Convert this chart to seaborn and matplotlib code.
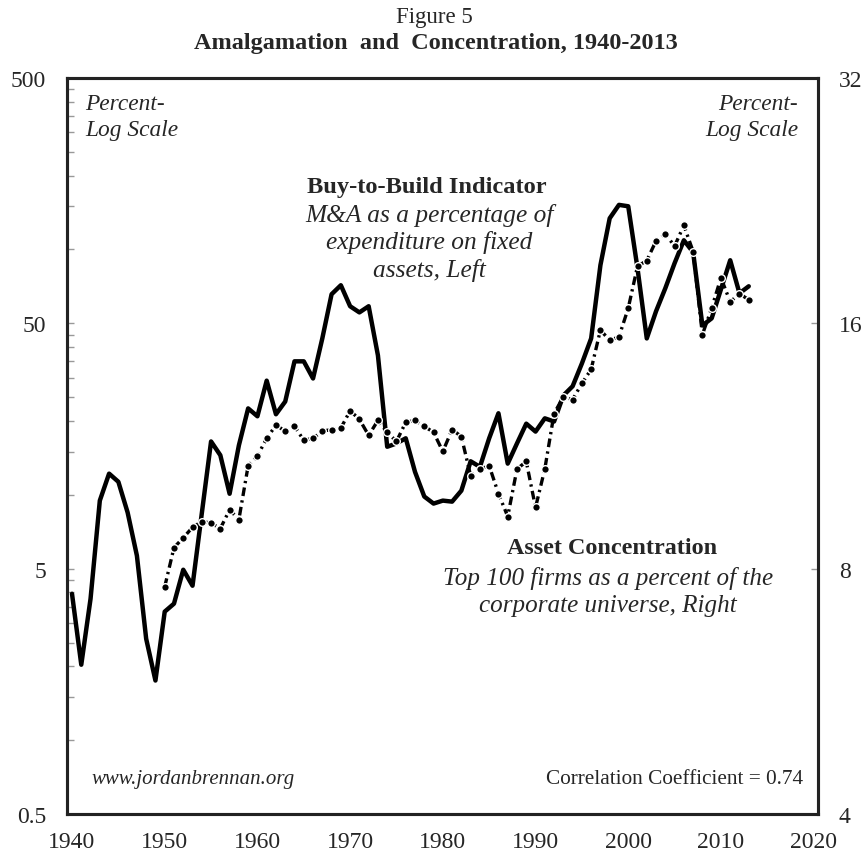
import numpy as np
import pandas as pd
import matplotlib
matplotlib.use("Agg")
import matplotlib.pyplot as plt
import seaborn as sns
from matplotlib.ticker import FixedLocator, NullFormatter, FixedFormatter, NullLocator

# Buy-to-build indicator (M&A as % of fixed-asset expenditure), left axis
years = list(range(1940, 2014))
buy_to_build = [3.95, 2.03, 3.77, 9.47, 12.2, 11.3, 8.47, 5.65, 2.59, 1.75,
                3.34, 3.6, 4.95, 4.26, 8.4, 16.5, 14.5, 10.1, 15.9, 22.5,
                20.9, 29.2, 21.3, 24.0, 35.0, 35.0, 29.8, 43.4, 65.7, 71.5,
                58.7, 55.4, 58.7, 37.0, 15.7, 16.2, 17.0, 12.4, 9.84, 9.21,
                9.47, 9.38, 10.4, 13.7, 13.0, 17.0, 21.5, 13.4, 16.2, 19.5,
                18.1, 20.5, 19.9, 25.4, 27.7, 34.3, 43.4, 86.3, 134, 152,
                150, 83.8, 43.4, 56.0, 69.5, 87.9, 109, 97.5, 49.0, 52.4,
                68.8, 90.4, 66.3, 70.8]

# Asset concentration (top 100 firms, % of corporate universe), right axis
conc_years = list(range(1950, 2014))
concentration = [7.60, 8.49, 8.73, 8.99, 9.14, 9.1, 8.96, 9.45, 9.19, 10.7,
                 11.0, 11.56, 12.0, 11.8, 11.96, 11.5, 11.56, 11.8, 11.85, 11.9,
                 12.5, 12.2, 11.66, 12.16, 11.76, 11.46, 12.1, 12.16, 11.96, 11.76,
                 11.14, 11.85, 11.62, 10.4, 10.6, 10.7, 9.89, 9.27, 10.6, 10.83,
                 9.51, 10.6, 12.4, 13.0, 12.9, 13.5, 14.05, 15.7, 15.25, 15.4,
                 16.7, 18.8, 19.1, 20.2, 20.6, 19.9, 21.1, 19.6, 15.5, 16.7,
                 18.2, 17.0, 17.4, 17.1]

left_ticks = [0.5, 5, 50, 500]
right_ticks = [4, 8, 16, 32]
x_labels = list(range(1940, 2030, 10))

df1 = pd.DataFrame({"year": years, "value": buy_to_build})
df2 = pd.DataFrame({"year": conc_years, "value": concentration})

sns.set_style("white")
plt.rcParams["font.family"] = ["Liberation Serif", "DejaVu Serif"]

W, H = 864, 854
fig = plt.figure(figsize=(W / 100, H / 100), dpi=100)
ax = fig.add_axes([67 / W, 1 - 815 / H, (818 - 67) / W, (815 - 79) / H])
ax2 = ax.twinx()

sns.lineplot(data=df1, x="year", y="value", ax=ax, color="black", lw=3.2)
sns.lineplot(data=df2, x="year", y="value", ax=ax2, color="black", lw=2.4,
             linestyle=(0, (2.6, 1.3, 0.7, 1.3)), marker="o", markersize=5.5,
             markeredgecolor="white", markeredgewidth=1.0)

ax.set_yscale("log")
ax.set_ylim(0.5, 500)
ax2.set_yscale("log", base=2)
ax2.set_ylim(4, 32)
ax.set_xlim(1939.46, 2020.47)

# x axis: labels at decades, small inward ticks every 2.5 years
ax.xaxis.set_major_locator(FixedLocator(x_labels))
ax.xaxis.set_major_formatter(FixedFormatter([str(v) for v in x_labels]))
ax.xaxis.set_minor_locator(FixedLocator(list(np.arange(1942, 2021, 2.5))))
ax.tick_params(axis="x", which="major", length=0, pad=12, labelsize=17)
ax.tick_params(axis="x", which="minor", direction="in", length=5, width=1,
               color="#999999")

# left axis
ax.yaxis.set_major_locator(FixedLocator(left_ticks))
ax.yaxis.set_major_formatter(FixedFormatter(["0.5", "5", "50", "500"]))
minor_left = list(np.arange(1, 5, 0.5)) + list(np.arange(10, 50, 5)) + list(np.arange(100, 500, 50))
ax.yaxis.set_minor_locator(FixedLocator(minor_left))
ax.yaxis.set_minor_formatter(NullFormatter())
ax.tick_params(axis="y", which="both", direction="in", length=5, width=1,
               color="#999999", pad=15, labelsize=17)

# right axis
ax2.yaxis.set_major_locator(FixedLocator(right_ticks))
ax2.yaxis.set_major_formatter(FixedFormatter([str(v) for v in right_ticks]))
ax2.yaxis.set_minor_locator(NullLocator())
ax2.tick_params(axis="y", which="major", direction="in", length=5, width=1,
                color="#999999", pad=15, labelsize=17)

ax.set_xlabel("")
ax.set_ylabel("")
ax2.set_ylabel("")
for a in (ax, ax2):
    for s in a.spines.values():
        s.set_visible(True)
        s.set_color("#222222")
        s.set_linewidth(2.2)


def ftext(x, y, s, **kw):
    fig.text(x / W, 1 - y / H, s, **kw)


ftext(434, 17, "Figure 5", ha="center", va="center", fontsize=16.5)
ftext(436, 43, "Amalgamation  and  Concentration, 1940-2013", ha="center",
      va="center", fontsize=17.5, fontweight="bold")

ftext(85, 94, "Percent-\nLog Scale", ha="left", va="top", fontsize=16.8,
      style="italic", linespacing=1.3)
ftext(798, 94, "Percent-\nLog Scale", ha="right", va="top", fontsize=16.8,
      style="italic", linespacing=1.3, multialignment="right")

ftext(427, 187, "Buy-to-Build Indicator", ha="center", va="center",
      fontsize=17.6, fontweight="bold")
ftext(429, 243, "M&A as a percentage of\nexpenditure on fixed\nassets, Left",
      ha="center", va="center", fontsize=18.3, style="italic", linespacing=1.27)

ftext(612, 549, "Asset Concentration", ha="center", va="center",
      fontsize=17.4, fontweight="bold")
ftext(608, 592, "Top 100 firms as a percent of the\ncorporate universe, Right",
      ha="center", va="center", fontsize=18.1, style="italic", linespacing=1.3)

ftext(92, 780, "www.jordanbrennan.org", ha="left", va="center", fontsize=15,
      style="italic")
ftext(803, 780, "Correlation Coefficient = 0.74", ha="right", va="center",
      fontsize=15.3)

fig.savefig("out.png", dpi=100)
